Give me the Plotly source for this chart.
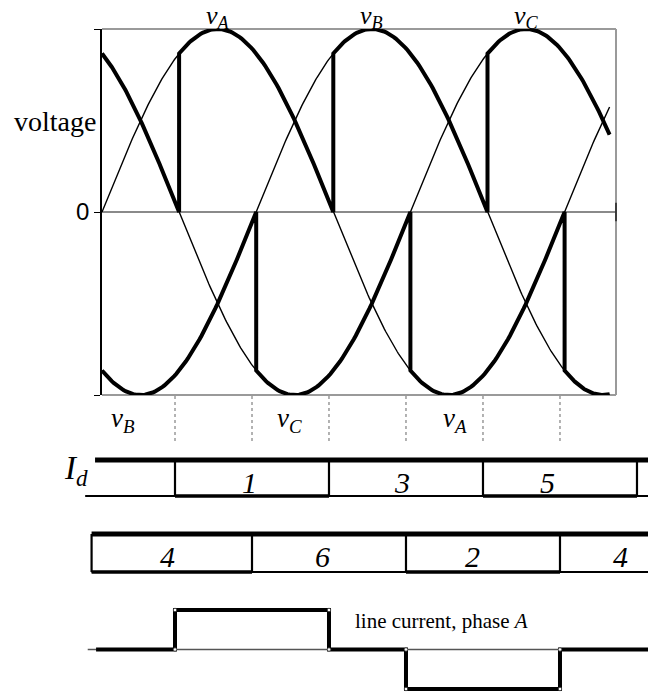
import numpy as np
import plotly.graph_objects as go

# ====================================
# DADOS
# ====================================

# tensoes de fase (pu) e defasagem de cada fase
PHASES = ["A", "B", "C"]
PHASE_SHIFT_DEG = [0, 120, 240]
PEAK_VOLTAGE = 1.0
THETA_END_DEG = 395

# fase que forma o envelope positivo / negativo em cada intervalo
POS_PHASE = ["C", "A", "B", "C"]
POS_EDGES_DEG = [0, 60, 180, 300, 395]
NEG_PHASE = ["B", "C", "A", "B"]
NEG_EDGES_DEG = [0, 120, 240, 360, 395]

# rotulos das tensoes
TOP_LABELS = ["A", "B", "C"]
TOP_LABEL_DEG = [90, 210, 330]
BOTTOM_LABELS = ["B", "C", "A"]
BOTTOM_LABEL_DEG = [16, 146, 275]

# linhas pontilhadas de comutacao
DOTTED_DEG = [60, 120, 180, 240, 300, 360]

# grupo positivo (linha I_d)
ROW1_EDGES_DEG = [60, 180, 300, 420]
ROW1_DEVICES = ["1", "3", "5"]
ROW1_LABEL_DEG = [118, 237, 350]

# grupo negativo
ROW2_EDGES_DEG = [-5, 120, 240, 360]
ROW2_DEVICES = ["4", "6", "2", "4"]
ROW2_LABEL_DEG = [54, 175, 292, 407]

# corrente de linha, fase A
CURRENT_EDGES_DEG = [-1.5, 60, 180, 240, 360]
CURRENT_LEVEL = [0, 1, 0, -1, 0]

# ====================================
# LAYOUT (pixels)
# ====================================
W, H = 648, 694
SERIF = "Liberation Serif"
SANS = "Liberation Sans"
PX_PER_DEG = 1.2833
X2_MIN = -98 / PX_PER_DEG
X2_MAX = (W - 98) / PX_PER_DEG


def py(px):
    return 1 - px / H


def phase_v(phase, theta):
    k = PHASES.index(phase)
    return PEAK_VOLTAGE * np.sin(np.radians(theta - PHASE_SHIFT_DEG[k]))


def envelope(phases, edges):
    xs, ys = [], []
    for ph, a, b in zip(phases, edges[:-1], edges[1:]):
        t = np.linspace(a, b, 80)
        xs += list(t)
        ys += list(phase_v(ph, t))
    return xs, ys


fig = go.Figure()

theta = np.linspace(0, THETA_END_DEG, 400)
for ph in PHASES:
    fig.add_trace(go.Scatter(x=theta, y=phase_v(ph, theta), mode="lines",
                             line=dict(color="black", width=1.4), hoverinfo="skip"))

for phases, edges in [(POS_PHASE, POS_EDGES_DEG), (NEG_PHASE, NEG_EDGES_DEG)]:
    ex, ey = envelope(phases, edges)
    fig.add_trace(go.Scatter(x=ex, y=ey, mode="lines",
                             line=dict(color="black", width=4), hoverinfo="skip"))

# corrente de linha
cx, cy = [CURRENT_EDGES_DEG[0]], [CURRENT_LEVEL[0]]
for e, prev, new in zip(CURRENT_EDGES_DEG[1:], CURRENT_LEVEL[:-1], CURRENT_LEVEL[1:]):
    cx += [e, e]
    cy += [prev, new]
cx.append(X2_MAX)
cy.append(CURRENT_LEVEL[-1])
fig.add_trace(go.Scatter(x=[-8, X2_MAX], y=[0, 0], mode="lines",
                         line=dict(color="#555555", width=1.3),
                         xaxis="x2", yaxis="y3", hoverinfo="skip"))
fig.add_trace(go.Scatter(x=cx, y=cy, mode="lines", line=dict(color="black", width=4),
                         xaxis="x2", yaxis="y3", hoverinfo="skip"))
fig.add_trace(go.Scatter(x=cx[1:-1], y=cy[1:-1], mode="markers",
                         marker=dict(size=3.5, color="white", line=dict(color="#333", width=0.8)),
                         xaxis="x2", yaxis="y3", hoverinfo="skip"))

shapes = []
# moldura do grafico de tensao
for x0, y0, x1, y1 in [(0, 1, 1, 1), (1, 0, 1, 1), (0, 0, 1, 0)]:
    shapes.append(dict(type="line", xref="x domain", yref="y domain",
                       x0=x0, y0=y0, x1=x1, y1=y1,
                       line=dict(color="#9a9a9a", width=2), layer="below"))
shapes.append(dict(type="line", xref="x domain", yref="y", x0=1, x1=1, y0=-0.05, y1=0.05,
                   line=dict(color="black", width=1.2)))

# linhas pontilhadas
for d in DOTTED_DEG:
    shapes.append(dict(type="line", xref="x2", yref="y2", x0=d, x1=d, y0=396, y1=444,
                       line=dict(color="#666666", width=1, dash="dot")))


def hline(x0, x1, y, w):
    shapes.append(dict(type="line", xref="x2", yref="y2", x0=x0, x1=x1, y0=y, y1=y,
                       line=dict(color="black", width=w)))


def vline(x, y0, y1, w=2.2):
    shapes.append(dict(type="line", xref="x2", yref="y2", x0=x, x1=x, y0=y0, y1=y1,
                       line=dict(color="black", width=w)))


# linha 1 (I_d)
R1_TOP, R1_BOT = 460, 496
hline(-2.3, X2_MAX, R1_TOP, 5)
hline(-10, X2_MAX, R1_BOT, 1.8)
for e in ROW1_EDGES_DEG:
    vline(e, R1_TOP, R1_BOT)
for i, (a, b) in enumerate(zip(ROW1_EDGES_DEG[:-1], ROW1_EDGES_DEG[1:])):
    if i % 2 == 0:
        hline(a, b, R1_BOT, 3.5)

# linha 2
R2_TOP, R2_BOT = 534, 572
hline(ROW2_EDGES_DEG[0], X2_MAX, R2_TOP, 5)
hline(ROW2_EDGES_DEG[0], X2_MAX, R2_BOT, 1.8)
for e in ROW2_EDGES_DEG:
    vline(e, R2_TOP, R2_BOT)
row2_ends = ROW2_EDGES_DEG + [X2_MAX]
for i, (a, b) in enumerate(zip(row2_ends[:-1], row2_ends[1:])):
    if i % 2 == 0:
        hline(a, b, R2_BOT, 3.5)


def label(text, x, xref, y, yref, size, yanchor="middle"):
    return dict(x=x, xref=xref, y=y, yref=yref, text=text, showarrow=False,
                xanchor="center", yanchor=yanchor, borderpad=0,
                font=dict(family=SERIF, size=size, color="black"))


annotations = []
for lab, d in zip(TOP_LABELS, TOP_LABEL_DEG):
    annotations.append(label(f"<i>v<sub>{lab}</sub></i>", d, "x", 1, "paper", 26, "top"))
for lab, d in zip(BOTTOM_LABELS, BOTTOM_LABEL_DEG):
    annotations.append(label(f"<i>v<sub>{lab}</sub></i>", d, "x", py(420), "paper", 27))
for lab, d in zip(ROW1_DEVICES, ROW1_LABEL_DEG):
    annotations.append(label(f"<i>{lab}</i>", d, "x2", 482, "y2", 30))
for lab, d in zip(ROW2_DEVICES, ROW2_LABEL_DEG):
    annotations.append(label(f"<i>{lab}</i>", d, "x2", 556, "y2", 30))
annotations += [
    label("voltage", 55 / W, "paper", py(121), "paper", 28),
    label("<i>I<sub>d</sub></i>", 76 / W, "paper", py(470), "paper", 33),
    label("line current, phase <i>A</i>", 441 / W, "paper", py(621), "paper", 21),
]

hidden = dict(visible=False, showgrid=False, zeroline=False)
fig.update_layout(
    width=W, height=H,
    margin=dict(l=0, r=0, t=0, b=0),
    paper_bgcolor="white", plot_bgcolor="rgba(0,0,0,0)",
    showlegend=False,
    xaxis=dict(domain=[102 / W, 616 / W], range=[0, 400], showgrid=False, zeroline=False,
               showticklabels=False, ticks=""),
    yaxis=dict(domain=[py(395), py(29)], range=[-1, 1], showgrid=False,
               zeroline=True, zerolinecolor="#8a8a8a", zerolinewidth=1.5,
               tickvals=[-1, 0, 1], ticktext=["", "0", ""], ticks="outside",
               ticklen=6, tickwidth=1.3, tickcolor="black",
               showline=True, linecolor="black", linewidth=1.5,
               tickfont=dict(family=SANS, size=24, color="black")),
    xaxis2=dict(domain=[0, 1], range=[X2_MIN, X2_MAX], anchor="y2", **hidden),
    yaxis2=dict(domain=[0, 1], range=[H, 0], anchor="x2", **hidden),
    yaxis3=dict(domain=[py(692.95), py(606.05)], range=[-1.1, 1.1], anchor="x2", **hidden),
    shapes=shapes,
    annotations=annotations,
)

# sem margem no body, para a figura ocupar a janela inteira
fig.write_html("out.html", config={"displayModeBar": False},
               post_script="document.body.style.margin='0';")
